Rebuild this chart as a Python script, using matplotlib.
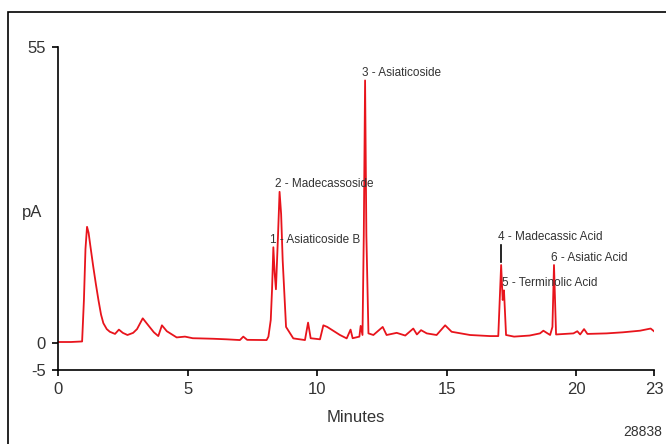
import matplotlib
matplotlib.use("Agg")
import matplotlib.pyplot as plt
from matplotlib.patches import Rectangle

plt.rcParams['font.family'] = ['Liberation Sans Narrow', 'Liberation Sans', 'DejaVu Sans']
plt.rcParams['axes.unicode_minus'] = False

# chromatogram trace (minutes, pA)
minutes = [0.0, 0.5, 0.93, 1.0, 1.06, 1.12, 1.18, 1.25, 1.36, 1.46, 1.56, 1.66, 1.75, 1.88,
           2.0, 2.2, 2.35, 2.5, 2.68, 2.9, 3.05, 3.27, 3.5, 3.7, 3.87, 4.01, 4.2, 4.58, 4.9,
           5.2, 5.48, 6.0, 6.5, 7.02, 7.15, 7.3, 8.05, 8.12, 8.21, 8.26, 8.31, 8.36, 8.41,
           8.49, 8.55, 8.61, 8.67, 8.8, 9.08, 9.53, 9.65, 9.75, 10.11, 10.24, 10.39, 10.88,
           11.14, 11.29, 11.37, 11.63, 11.68, 11.75, 11.8, 11.85, 11.9, 11.98, 12.17, 12.53,
           12.68, 13.07, 13.4, 13.71, 13.85, 14.01, 14.23, 14.61, 14.94, 15.19, 15.9, 16.67,
           16.99, 17.1, 17.16, 17.21, 17.29, 17.6, 18.2, 18.6, 18.73, 18.99, 19.08, 19.14,
           19.22, 19.89, 20.04, 20.15, 20.3, 20.43, 21.17, 21.8, 22.46, 22.87, 23.0]
signal = [0.2, 0.2, 0.3, 8.0, 17.5, 21.6, 20.5, 18.0, 14.2, 11.0, 8.0, 5.3, 3.7, 2.6,
          2.1, 1.7, 2.5, 1.9, 1.5, 1.9, 2.6, 4.6, 3.2, 2.0, 1.3, 3.3, 2.2, 1.05, 1.2,
          0.9, 0.87, 0.8, 0.7, 0.56, 1.2, 0.6, 0.56, 1.2, 4.3, 10.0, 17.8, 13.0, 10.0,
          20.0, 28.1, 24.0, 15.4, 3.0, 0.87, 0.56, 3.8, 0.9, 0.7, 3.3, 3.0, 1.5,
          0.87, 2.5, 0.9, 1.2, 3.2, 1.5, 20.0, 48.8, 20.0, 1.8, 1.5, 3.0,
          1.5, 1.9, 1.4, 2.7, 1.6, 2.4, 1.8, 1.5, 3.3, 2.1, 1.5, 1.3,
          1.3, 14.5, 8.0, 9.8, 1.5, 1.2, 1.4, 1.8, 2.3, 1.5, 3.0, 14.5,
          1.6, 1.8, 2.2, 1.6, 2.6, 1.7, 1.8, 2.0, 2.3, 2.7, 2.2]

# peak labels: text, x, y (data units)
peak_labels = ['1 - Asiaticoside B', '2 - Madecassoside', '3 - Asiaticoside',
               '4 - Madecassic Acid', '5 - Terminolic Acid', '6 - Asiatic Acid']
label_x = [8.18, 8.38, 11.73, 16.98, 17.13, 19.03]
label_y = [19.1, 29.5, 50.2, 19.7, 11.1, 15.8]

x_ticks = [0, 5, 10, 15, 20, 23]
y_ticks = [-5, 0, 55]

fig = plt.figure(figsize=(6.66, 4.44), dpi=100)
ax = fig.add_axes([0.0871, 0.1667, 0.8949, 0.7273])

ax.plot(minutes, signal, color='#e8141c', lw=1.3)

for txt, lx, ly in zip(peak_labels, label_x, label_y):
    ax.text(lx, ly, txt, fontsize=8.5, color='#333333', va='center', ha='left')
# marker line under label 4
ax.plot([17.1, 17.1], [15.0, 18.3], color='black', lw=1.2)

ax.set_xlim(0, 23)
ax.set_ylim(-5, 55)
ax.set_xticks(x_ticks)
ax.set_yticks(y_ticks)
ax.tick_params(labelsize=12, labelcolor='#333333', color='black', length=4, width=1.2, pad=5)
for s in ['top', 'right']:
    ax.spines[s].set_visible(False)
for s in ['left', 'bottom']:
    ax.spines[s].set_linewidth(1.2)

ax.set_xlabel('Minutes', fontsize=12, color='#333333', labelpad=9)
fig.text(32 / 666, 1 - 212 / 444, 'pA', fontsize=12, color='#333333', ha='center', va='center')
fig.text(662 / 666, 1 - 432 / 444, '28838', fontsize=10, color='#333333', ha='right', va='center')

# outer frame
fig.patches.append(Rectangle((8 / 666, -0.1), 1.2, 1 - 12 / 444 + 0.1, transform=fig.transFigure,
                             fill=False, edgecolor='black', lw=1.2, clip_on=False))

fig.savefig('out.png', dpi=100)
